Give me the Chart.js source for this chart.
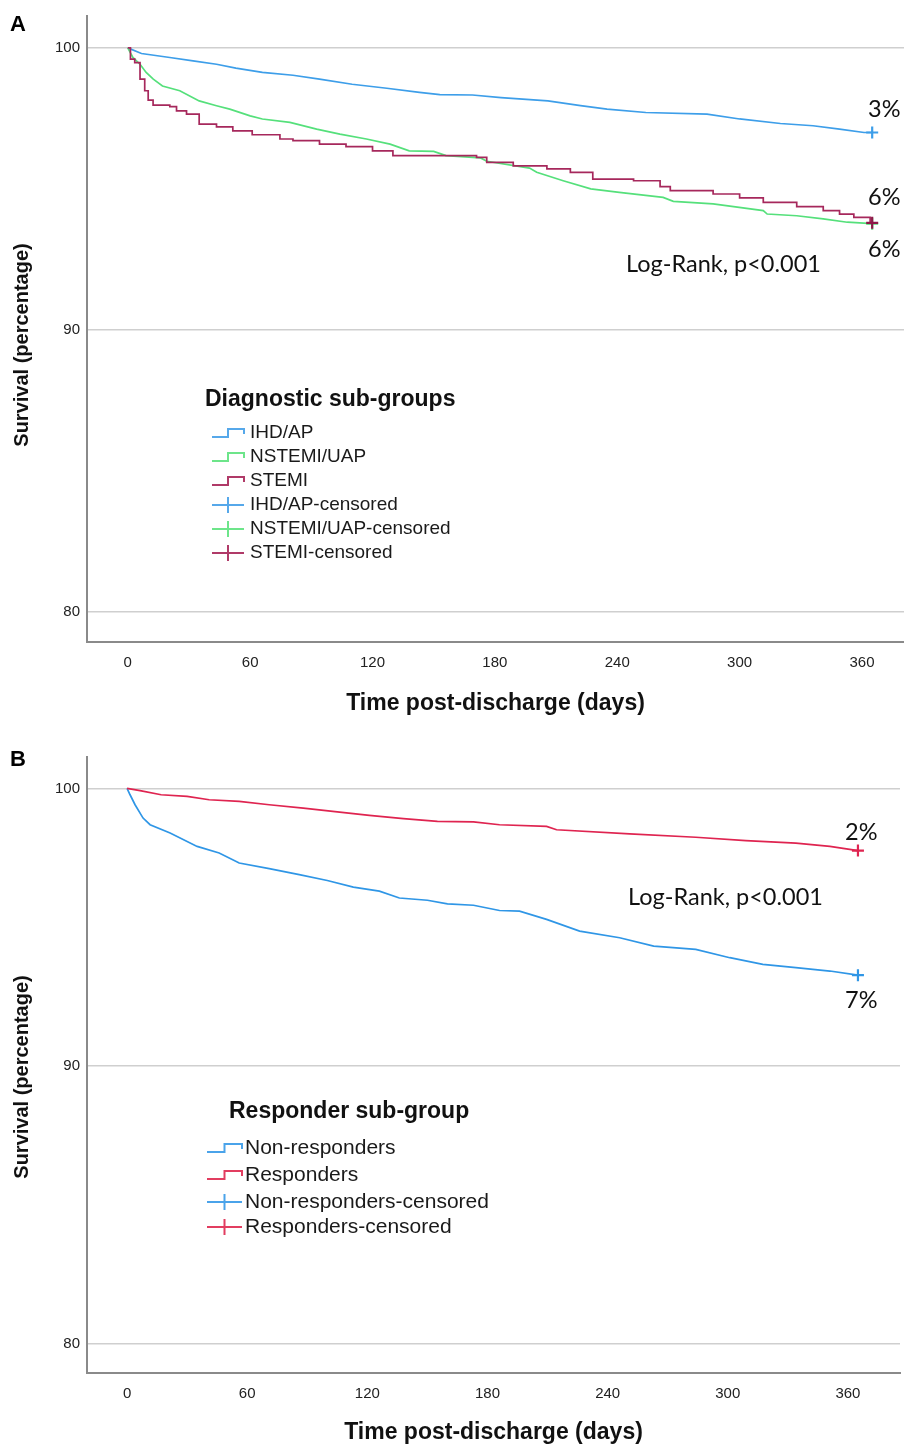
<!DOCTYPE html>
<html>
<head>
<meta charset="utf-8">
<script src="https://cdn.jsdelivr.net/npm/chart.js@4.4.1/dist/chart.umd.min.js"></script>
<style>
html,body{margin:0;padding:0;background:#ffffff;}
#wrap{position:relative;width:904px;height:1446px;overflow:hidden;background:#fff;}
.pane{position:absolute;left:0;width:904px;height:723px;}
#pa{top:0;}
#pb{top:723px;}
</style>
</head>
<body>
<div id="wrap">
  <div class="pane" id="pa"><canvas id="ca"></canvas></div>
  <div class="pane" id="pb"><canvas id="cb"></canvas></div>
</div>
<script>
// ---------------- DATA ----------------
const xTickValues = [0, 60, 120, 180, 240, 300, 360];
const yTickValues = [80, 90, 100];
const censorDay = 365;

// Panel A - Diagnostic sub-groups
const groupsA = ['IHD/AP', 'NSTEMI/UAP', 'STEMI'];
const ihdDays = [0, 6.7, 20.6, 32, 43.5, 53, 66, 81, 94, 110, 127, 143, 153, 169, 183, 206, 222, 235, 254, 284, 300, 320, 336, 349, 361, 365];
const ihdSurv = [100, 99.80, 99.66, 99.54, 99.42, 99.28, 99.13, 99.03, 98.89, 98.71, 98.57, 98.42, 98.34, 98.33, 98.24, 98.12, 97.95, 97.83, 97.71, 97.65, 97.48, 97.32, 97.24, 97.12, 97.00, 97.00];
const nstemiDays = [0, 2.5, 6, 9, 12.5, 17, 25.5, 35, 43.5, 50, 60, 66, 79.5, 92.6, 104, 117, 128.6, 138, 150, 156, 173, 176, 197, 200.5, 213.5, 227, 241, 262.5, 267.5, 287, 311.6, 313.5, 328, 341, 352.8, 365];
const nstemiSurv = [100, 99.66, 99.42, 99.13, 98.89, 98.65, 98.48, 98.12, 97.95, 97.83, 97.59, 97.48, 97.36, 97.12, 96.94, 96.77, 96.59, 96.35, 96.33, 96.18, 96.10, 95.98, 95.74, 95.59, 95.29, 95.00, 94.88, 94.70, 94.56, 94.47, 94.23, 94.11, 94.05, 93.94, 93.82, 93.77];
const stemiDays = [0, 1.3, 3.4, 6, 8.3, 10, 12.4, 20.6, 23.9, 28.8, 35, 43.5, 51.5, 61, 74.6, 81, 94, 107, 120, 130, 171, 176, 189, 205.5, 217, 228, 248, 261, 266, 287, 300, 311.6, 328, 341, 349, 356, 364, 365];
const stemiSurv = [100, 99.60, 99.48, 98.89, 98.48, 98.15, 97.97, 97.92, 97.77, 97.65, 97.30, 97.20, 97.06, 96.92, 96.77, 96.71, 96.59, 96.50, 96.35, 96.18, 96.12, 95.94, 95.82, 95.71, 95.59, 95.35, 95.29, 95.08, 94.94, 94.82, 94.68, 94.52, 94.37, 94.23, 94.11, 93.99, 93.82, 93.80];
const pctLabelsA = ['3%', '6%', '6%'];

// Panel B - Responder sub-group
const groupsB = ['Non-responders', 'Responders'];
const nonRespDays = [0, 1.5, 4, 8, 11.5, 21.5, 35, 46, 56, 71, 86, 100, 113, 126, 136, 150, 160, 173, 186, 196, 209.5, 226, 246, 263, 284, 301, 317.5, 334, 351, 365];
const nonRespSurv = [100, 99.77, 99.41, 98.93, 98.69, 98.39, 97.91, 97.67, 97.31, 97.11, 96.89, 96.68, 96.44, 96.30, 96.05, 95.97, 95.84, 95.79, 95.60, 95.58, 95.28, 94.86, 94.62, 94.32, 94.20, 93.90, 93.66, 93.54, 93.42, 93.27];
const respDays = [0, 6.5, 17, 30, 41, 56, 71, 88, 105, 121, 138, 155, 173, 186, 209.5, 214.5, 251, 284, 309, 334, 351, 365];
const respSurv = [100, 99.92, 99.77, 99.71, 99.59, 99.53, 99.41, 99.29, 99.15, 99.03, 98.91, 98.81, 98.79, 98.69, 98.63, 98.51, 98.36, 98.24, 98.12, 98.03, 97.91, 97.76];
const pctLabelsB = ['2%', '7%'];

const logRankText = 'Log-Rank, p<0.001';
const xTitle = 'Time post-discharge (days)';
const yTitle = 'Survival (percentage)';

// ---------------- helpers ----------------
const SANS = "'Liberation Sans', Arial, sans-serif";
const CAL = "Lato, 'Open Sans', sans-serif";
const tickFont = {family: SANS, size: 15};

function pts(d, s) { return d.map((x, i) => ({x: x, y: s[i]})); }
function lineDs(label, d, s, color, stepped) {
  return {label: label, data: pts(d, s), showLine: true, stepped: stepped,
          borderColor: color, borderWidth: 1.7, pointRadius: 0, fill: false};
}
function censorDs(label, s, color) {
  return {label: label + '-censored', data: [{x: censorDay, y: s[s.length - 1]}], showLine: false,
          pointStyle: 'cross', pointRadius: 6, pointBorderWidth: 2.2,
          pointBorderColor: color, pointBackgroundColor: color, borderColor: color};
}

function overlay(P) {
  return {
    id: 'overlay' + P.letter,
    afterDraw(chart) {
      const ctx = chart.ctx;
      ctx.save();
      // panel letter
      ctx.fillStyle = '#000';
      ctx.font = 'bold 22px ' + SANS;
      ctx.textAlign = 'left';
      ctx.textBaseline = 'middle';
      ctx.fillText(P.letter, 10, P.letterY);
      // y axis title (rotated)
      ctx.save();
      ctx.translate(22, P.yTitleY);
      ctx.rotate(-Math.PI / 2);
      ctx.textAlign = 'center';
      ctx.font = 'bold 20px ' + SANS;
      ctx.fillStyle = '#111';
      ctx.fillText(yTitle, 0, 0);
      ctx.restore();
      // legend title
      ctx.font = 'bold 23px ' + SANS;
      ctx.fillStyle = '#111';
      ctx.fillText(P.legendTitle, P.legTitleX, P.legTitleY);
      // legend items
      ctx.font = P.itemSize + 'px ' + SANS;
      P.items.forEach((it, i) => {
        const yc = P.itemY[i];
        const x0 = P.iconX0, x1 = P.iconX1;
        const xm = (x0 + x1) / 2;
        ctx.strokeStyle = it.color;
        ctx.lineWidth = 2;
        ctx.beginPath();
        if (it.kind === 'step') {
          ctx.moveTo(x0, yc + 4);
          ctx.lineTo(xm, yc + 4);
          ctx.lineTo(xm, yc - 4);
          ctx.lineTo(x1, yc - 4);
          ctx.lineTo(x1, yc + 1);
        } else {
          ctx.moveTo(x0, yc);
          ctx.lineTo(x1, yc);
          ctx.moveTo(xm, yc - 8);
          ctx.lineTo(xm, yc + 8);
        }
        ctx.stroke();
        ctx.fillStyle = '#1a1a1a';
        ctx.fillText(it.label, P.textX, yc);
      });
      // annotations
      ctx.font = '23.5px ' + CAL;
      ctx.fillStyle = '#111';
      P.notes.forEach(n => { ctx.fillText(n.t, n.x, n.y); });
      ctx.restore();
    }
  };
}

function makeChart(canvas, P) {
  return new Chart(canvas, {
    type: 'scatter',
    data: {datasets: P.datasets},
    options: {
      responsive: true, maintainAspectRatio: false, animation: false, devicePixelRatio: 1,
      layout: {autoPadding: false, padding: {top: P.padTop, right: P.padRight, left: 0, bottom: 0}},
      plugins: {legend: {display: false}, tooltip: {enabled: false}},
      events: [],
      scales: {
        x: {
          type: 'linear', min: -20, max: P.xMax,
          afterBuildTicks: s => { s.ticks = xTickValues.map(v => ({value: v})); },
          afterFit: s => { s.height = P.xH; },
          grid: {display: false, drawTicks: false},
          border: {display: true, color: '#8a8a8a', width: 2},
          ticks: {padding: 12, color: '#222', font: tickFont, maxRotation: 0, autoSkip: false},
          title: {display: true, text: xTitle, color: '#111',
                  font: {family: SANS, weight: 'bold', size: 23, lineHeight: 1},
                  padding: {top: 0, bottom: P.xTitlePad}}
        },
        y: {
          type: 'linear', min: 78.94, max: 101.13,
          afterBuildTicks: s => { s.ticks = yTickValues.map(v => ({value: v})); },
          afterFit: s => { s.width = 87; },
          grid: {color: '#cfcfcf', lineWidth: 1.6, drawTicks: false},
          border: {display: true, color: '#8a8a8a', width: 2},
          ticks: {padding: 7, color: '#222', font: tickFont, autoSkip: false},
          title: {display: false}
        }
      }
    },
    plugins: [overlay(P)]
  });
}

// ---------------- Panel A ----------------
const colA = {ihd: '#3d9ee9', nst: '#55e07b', stemi: '#a6285c', stemiC: '#8e1848'};
makeChart(document.getElementById('ca'), {
  letter: 'A', letterY: 25, yTitleY: 345,
  padTop: 15, padRight: 0, xMax: 380.6, xH: 81, xTitlePad: 7.5,
  datasets: [
    censorDs(groupsA[2], stemiSurv, colA.stemiC),
    censorDs(groupsA[1], nstemiSurv, colA.nst),
    censorDs(groupsA[0], ihdSurv, colA.ihd),
    lineDs(groupsA[2], stemiDays, stemiSurv, colA.stemi, true),
    lineDs(groupsA[1], nstemiDays, nstemiSurv, colA.nst, false),
    lineDs(groupsA[0], ihdDays, ihdSurv, colA.ihd, false)
  ],
  legendTitle: 'Diagnostic sub-groups', legTitleX: 205, legTitleY: 400,
  itemSize: 19, iconX0: 212, iconX1: 244, textX: 250,
  itemY: [433, 457, 481, 505, 529, 553],
  items: [
    {kind: 'step', color: '#56a8ea', label: groupsA[0]},
    {kind: 'step', color: '#6de58a', label: groupsA[1]},
    {kind: 'step', color: '#b03a68', label: groupsA[2]},
    {kind: 'cross', color: '#56a8ea', label: groupsA[0] + '-censored'},
    {kind: 'cross', color: '#6de58a', label: groupsA[1] + '-censored'},
    {kind: 'cross', color: '#b03a68', label: groupsA[2] + '-censored'}
  ],
  notes: [
    {t: pctLabelsA[0], x: 868, y: 109},
    {t: pctLabelsA[1], x: 868, y: 197},
    {t: pctLabelsA[2], x: 868, y: 249},
    {t: logRankText, x: 626, y: 264}
  ]
});

// ---------------- Panel B ----------------
const colB = {non: '#2f96e6', resp: '#df2450'};
makeChart(document.getElementById('cb'), {
  letter: 'B', letterY: 37, yTitleY: 354,
  padTop: 34, padRight: 4, xMax: 386, xH: 73, xTitlePad: 1.5,
  datasets: [
    censorDs(groupsB[1], respSurv, colB.resp),
    censorDs(groupsB[0], nonRespSurv, colB.non),
    lineDs(groupsB[1], respDays, respSurv, colB.resp, false),
    lineDs(groupsB[0], nonRespDays, nonRespSurv, colB.non, false)
  ],
  legendTitle: 'Responder sub-group', legTitleX: 229, legTitleY: 389,
  itemSize: 21, iconX0: 207, iconX1: 242, textX: 245,
  itemY: [425, 452, 479, 504],
  items: [
    {kind: 'step', color: '#4aa3ea', label: groupsB[0]},
    {kind: 'step', color: '#e23d60', label: groupsB[1]},
    {kind: 'cross', color: '#4aa3ea', label: groupsB[0] + '-censored'},
    {kind: 'cross', color: '#e23d60', label: groupsB[1] + '-censored'}
  ],
  notes: [
    {t: pctLabelsB[0], x: 845, y: 109},
    {t: pctLabelsB[1], x: 845, y: 277},
    {t: logRankText, x: 628, y: 174}
  ]
});
</script>
</body>
</html>
